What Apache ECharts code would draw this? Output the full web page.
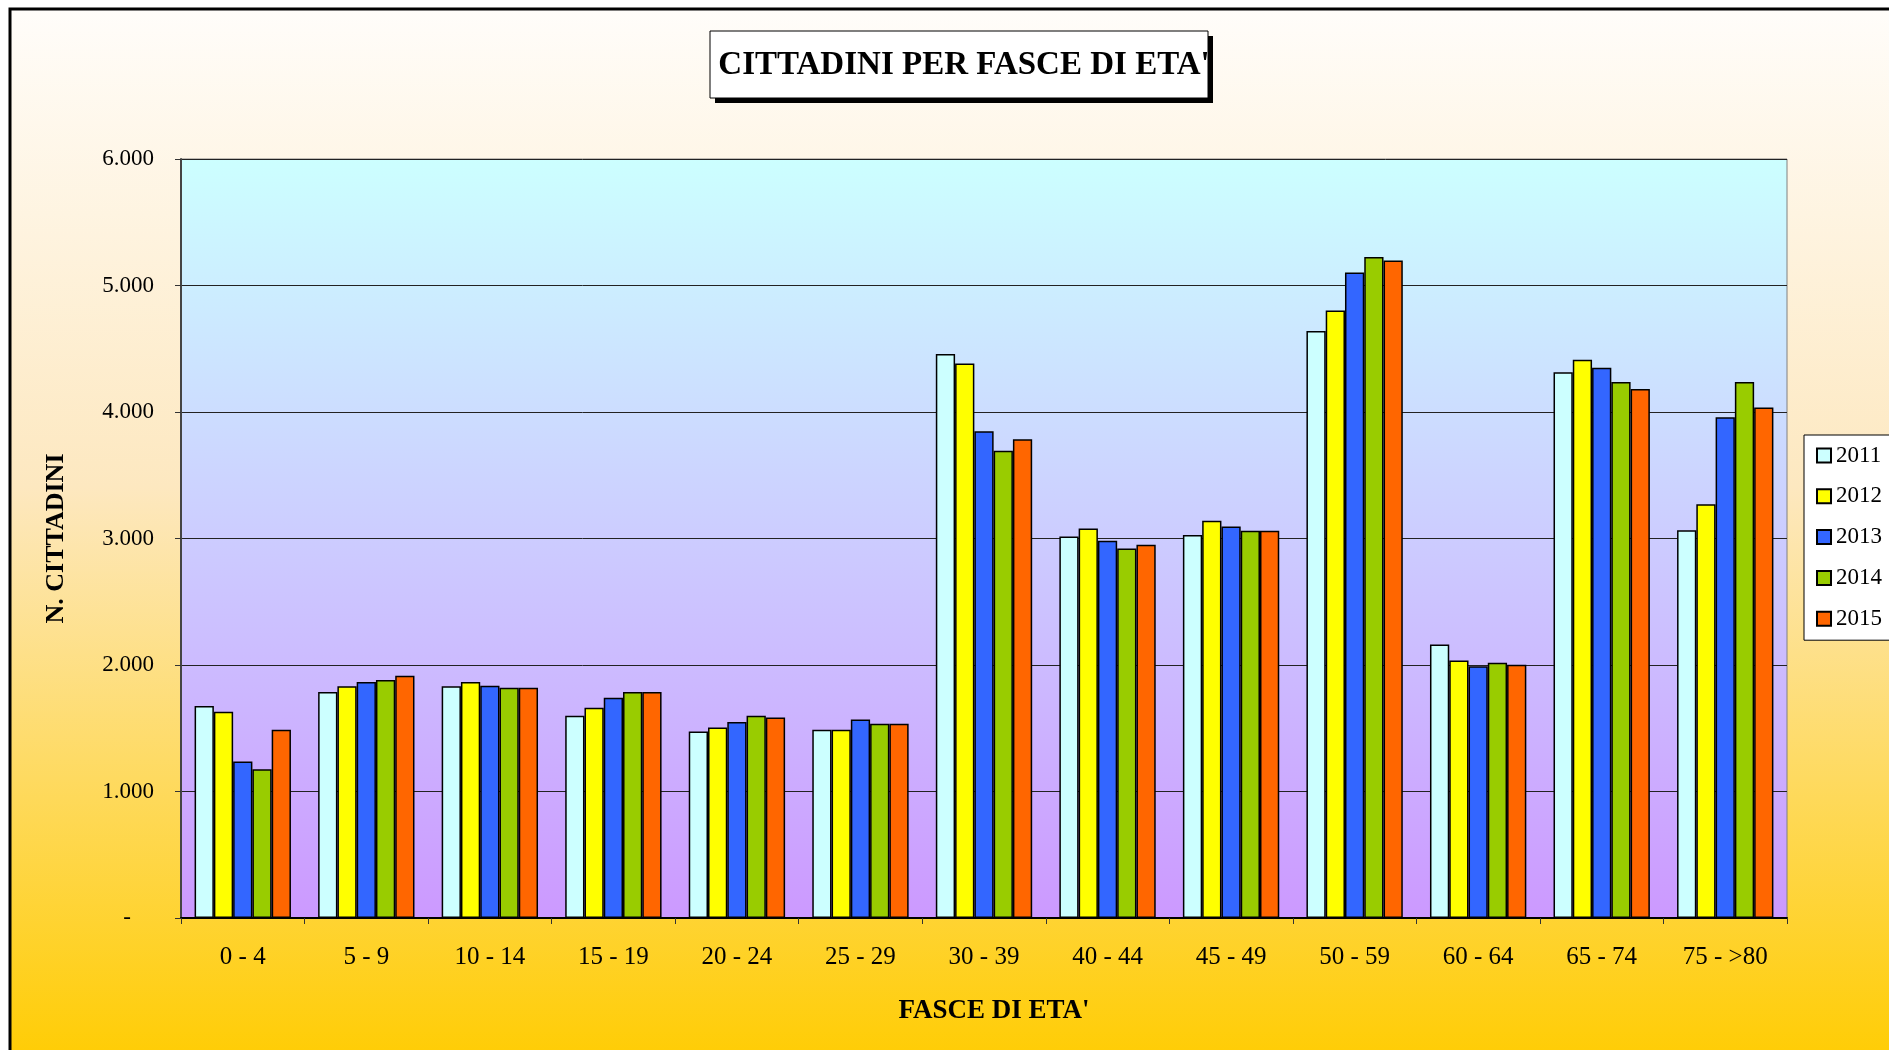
<!DOCTYPE html>
<html lang="it">
<head>
<meta charset="UTF-8">
<title>Cittadini per fasce di eta'</title>
<style>
    html, body { margin: 0; padding: 0; background: #fff; }
    #chart { width: 1889px; height: 1050px; }
</style>
</head>
<body>
<div id="chart"></div>
<script src="https://cdn.jsdelivr.net/npm/echarts@6/dist/echarts.min.js"></script>
<script>
    // dati
    var fasce = ['0 - 4', '5 - 9', '10 - 14', '15 - 19', '20 - 24', '25 - 29', '30 - 39',
                 '40 - 44', '45 - 49', '50 - 59', '60 - 64', '65 - 74', '75 - >80'];
    var anni = ['2011', '2012', '2013', '2014', '2015'];
    var v2011 = [1675, 1787, 1833, 1599, 1474, 1489, 4459, 3015, 3027, 4640, 2162, 4315, 3065];
    var v2012 = [1631, 1833, 1866, 1663, 1505, 1489, 4383, 3079, 3140, 4802, 2035, 4414, 3270];
    var v2013 = [1237, 1866, 1836, 1742, 1550, 1570, 3848, 2982, 3094, 5102, 1990, 4350, 3958];
    var v2014 = [1175, 1881, 1821, 1787, 1599, 1535, 3693, 2921, 3061, 5226, 2018, 4237, 4237];
    var v2015 = [1489, 1915, 1821, 1787, 1584, 1535, 3784, 2951, 3061, 5198, 2002, 4181, 4036];
    var valori = [v2011, v2012, v2013, v2014, v2015];
    var colori = ['#ccffff', '#ffff00', '#3366ff', '#99cc00', '#ff6600'];

    var font = '"Liberation Serif", "Times New Roman", serif';

    var chart = echarts.init(document.getElementById('chart'));

    var series = anni.map(function (a, i) {
        return {
            name: a,
            type: 'bar',
            data: valori[i],
            barGap: '0%',
            barCategoryGap: '22%',
            itemStyle: { color: colori[i], borderColor: '#000', borderWidth: 1.5 }
        };
    });

    var option = {
        animation: false,
        backgroundColor: '#fff',
        graphic: [
            // cornice esterna con sfondo sfumato
            {
                type: 'rect', z: -10, silent: true,
                shape: { x: 10, y: 9, width: 1900, height: 1060 },
                style: {
                    fill: new echarts.graphic.LinearGradient(0, 0, 0, 1, [
                        { offset: 0, color: '#fffdfa' },
                        { offset: 0.45, color: '#fde8c0' },
                        { offset: 1, color: '#ffcc00' }
                    ]),
                    stroke: '#000', lineWidth: 3
                }
            },
            // riquadro del titolo con ombra
            {
                type: 'rect', z: 1, silent: true,
                shape: { x: 715, y: 36, width: 498, height: 67 },
                style: { fill: '#000' }
            },
            {
                type: 'rect', z: 2, silent: true,
                shape: { x: 710, y: 31, width: 498, height: 67 },
                style: { fill: '#fff', stroke: '#000', lineWidth: 1 }
            }
        ],
        title: {
            text: "CITTADINI PER FASCE DI ETA'",
            left: 959,
            top: 44,
            textAlign: 'center',
            z: 10,
            textStyle: { fontFamily: font, fontSize: 33, fontWeight: 'bold', color: '#000' }
        },
        legend: {
            data: anni,
            orient: 'vertical',
            left: 1804,
            top: 435,
            padding: [9, 20, 10, 12],
            itemWidth: 14,
            itemHeight: 14,
            itemGap: 17.8,
            backgroundColor: '#fff',
            borderColor: '#000',
            borderWidth: 1,
            icon: 'rect',
            textStyle: { fontFamily: font, fontSize: 23, color: '#000', lineHeight: 22 }
        },
        grid: {
            left: 181,
            top: 159,
            width: 1606,
            height: 759,
            show: true,
            borderColor: '#808080',
            borderWidth: 1,
            backgroundColor: new echarts.graphic.LinearGradient(0, 0, 0, 1, [
                { offset: 0, color: '#ccffff' },
                { offset: 1, color: '#cc99ff' }
            ])
        },
        xAxis: {
            type: 'category',
            data: fasce,
            name: "FASCE DI ETA'",
            nameLocation: 'middle',
            nameGap: 80,
            nameTextStyle: { fontFamily: font, fontSize: 27, fontWeight: 'bold', color: '#000', padding: [0, 0, 0, 20] },
            axisLine: { lineStyle: { color: '#000', width: 2 } },
            axisTick: { show: true, length: 6, lineStyle: { color: '#333' } },
            axisLabel: { fontFamily: font, fontSize: 25, color: '#000', margin: 27 }
        },
        yAxis: {
            type: 'value',
            min: 0,
            max: 6000,
            interval: 1000,
            name: 'N. CITTADINI',
            nameLocation: 'middle',
            nameGap: 112,
            nameTextStyle: { fontFamily: font, fontSize: 26, fontWeight: 'bold', color: '#000' },
            axisLine: { show: true, lineStyle: { color: '#444', width: 2 } },
            axisTick: { show: true, length: 6, lineStyle: { color: '#333' } },
            splitLine: { lineStyle: { color: '#222', width: 1 } },
            axisLabel: {
                fontFamily: font, fontSize: 23, color: '#000', margin: 27,
                formatter: function (v) {
                    if (v === 0) return '-    ';
                    return (v / 1000).toFixed(0) + '.000';
                }
            }
        },
        series: series
    };

    chart.setOption(option);
</script>
</body>
</html>
